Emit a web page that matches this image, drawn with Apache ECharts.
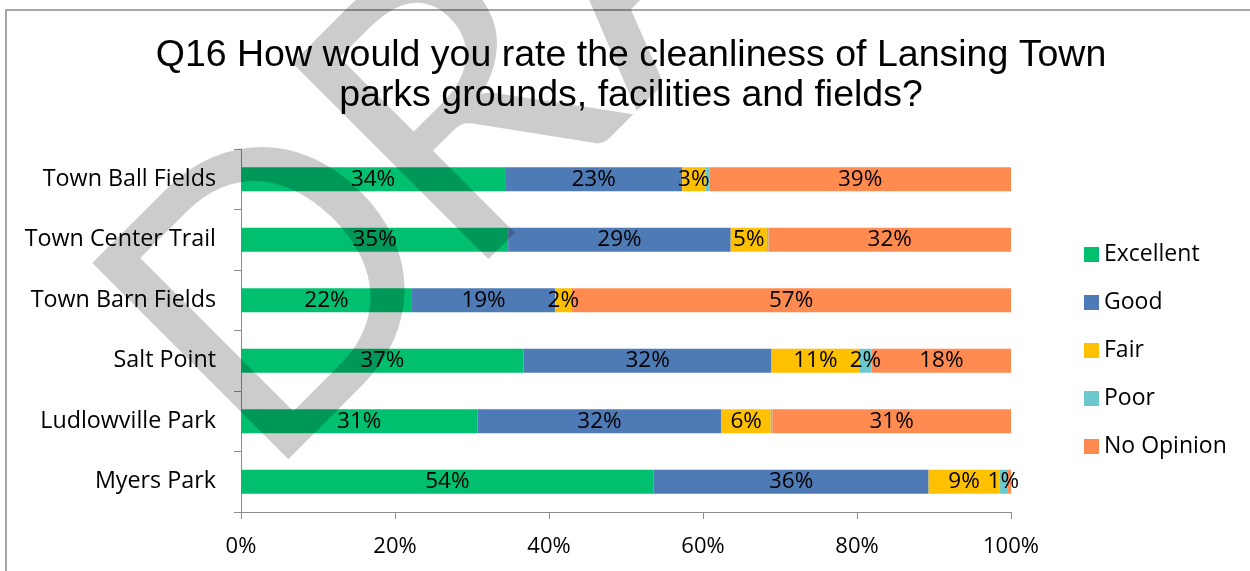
<!DOCTYPE html>
<html>
<head>
<meta charset="utf-8">
<script src="https://cdn.jsdelivr.net/npm/echarts@6/dist/echarts.min.js"></script>
<style>
  html, body { margin: 0; padding: 0; background: #fff; }
  #main { width: 1250px; height: 571px; }
</style>
</head>
<body>
<div id="main"></div>
<script>
// Q16 cleanliness ratings, percent of respondents per location
var categories = ['Town Ball Fields', 'Town Center Trail', 'Town Barn Fields', 'Salt Point', 'Ludlowville Park', 'Myers Park'];
var excellent = [34.3, 34.7, 22.2, 36.7, 30.7, 53.6];
var good = [23.0, 28.9, 18.6, 32.2, 31.7, 35.7];
var fair = [3.0, 4.7, 2.1, 11.4, 6.4, 9.2];
var poor = [0.5, 0.2, 0, 1.6, 0.2, 1.0];
var noOpinion = [39.2, 31.5, 57.1, 18.1, 31.0, 0.5];
var seriesNames = ['Excellent', 'Good', 'Fair', 'Poor', 'No Opinion'];
var xTicks = [0, 20, 40, 60, 80, 100];

var font = "'Open Sans', 'Noto Sans', sans-serif";
var colors = ['#00BF6F', '#4E7AB5', '#FFC000', '#6BC8CC', '#FF8B50'];

var myChart = echarts.init(document.getElementById('main'));

function makeSeries(name, data) {
	return {
		name: name,
		type: 'bar',
		stack: 'total',
		barWidth: 24,
		data: data,
		label: {
			show: true,
			position: 'inside',
			color: '#000',
			fontFamily: font,
			fontSize: 22.5,
			formatter: function (p) {
				return p.value >= 1 ? Math.round(p.value) + '%' : '';
			}
		}
	};
}

// watermark letters laid out one by one along a 45 degree baseline
var wmLetters = ['D', 'R', 'A', 'F', 'T'];
var wmAdvance = [283, 244, 235, 220, 220];
var wmStart = [175, 396];
var wm = [];
var dist = 0;
for (var i = 0; i < wmLetters.length; i++) {
	wm.push({
		type: 'text',
		x: wmStart[0] + dist * Math.SQRT1_2,
		y: wmStart[1] - dist * Math.SQRT1_2,
		rotation: Math.PI / 4,
		z: 100,
		silent: true,
		style: {
			text: wmLetters[i],
			font: "387px Lato, sans-serif",
			fill: 'rgba(0,0,0,0.2)',
			align: 'left',
			textAlign: 'left',
			verticalAlign: 'middle',
			textVerticalAlign: 'middle'
		}
	});
	dist += wmAdvance[i];
}

var option = {
	color: colors,
	animation: false,
	grid: { left: 241, right: 239, top: 149, bottom: 59, containLabel: false },
	legend: {
		orient: 'vertical',
		left: 1084,
		top: 243,
		padding: 0,
		itemWidth: 15,
		itemHeight: 15,
		itemGap: 25,
		icon: 'rect',
		data: seriesNames,
		textStyle: { fontFamily: font, fontSize: 23, lineHeight: 22, color: '#000' }
	},
	xAxis: {
		type: 'value',
		min: xTicks[0],
		max: xTicks[xTicks.length - 1],
		interval: 20,
		splitLine: { show: false },
		axisLine: { show: true, lineStyle: { color: '#8c8c8c', width: 1 } },
		axisTick: { show: true, length: 7, lineStyle: { color: '#8c8c8c' } },
		axisLabel: { formatter: '{value}%', color: '#000', fontFamily: font, fontSize: 22, margin: 24 }
	},
	yAxis: {
		type: 'category',
		inverse: true,
		data: categories,
		axisLine: { show: true, lineStyle: { color: '#8c8c8c', width: 1 } },
		axisTick: { show: true, length: 7, lineStyle: { color: '#8c8c8c' } },
		axisLabel: { color: '#000', fontFamily: font, fontSize: 23.3, margin: 25 }
	},
	series: [
		makeSeries(seriesNames[0], excellent),
		makeSeries(seriesNames[1], good),
		makeSeries(seriesNames[2], fair),
		makeSeries(seriesNames[3], poor),
		makeSeries(seriesNames[4], noOpinion)
	],
	graphic: [
		{
			type: 'rect',
			shape: { x: 6, y: 10, width: 1400, height: 800 },
			style: { fill: 'none', stroke: '#a6a6a6', lineWidth: 2 },
			silent: true
		},
		{
			type: 'text',
			x: 631,
			y: 36,
			style: {
				text: 'Q16 How would you rate the cleanliness of Lansing Town\nparks grounds, facilities and fields?',
				font: "37.5px 'Liberation Sans', Arial, sans-serif",
				fill: '#000',
				lineHeight: 40,
				align: 'center',
				textAlign: 'center',
				verticalAlign: 'top',
				textVerticalAlign: 'top'
			},
			silent: true
		}
	].concat(wm)
};

myChart.setOption(option);
window.onresize = myChart.resize;
</script>
</body>
</html>
